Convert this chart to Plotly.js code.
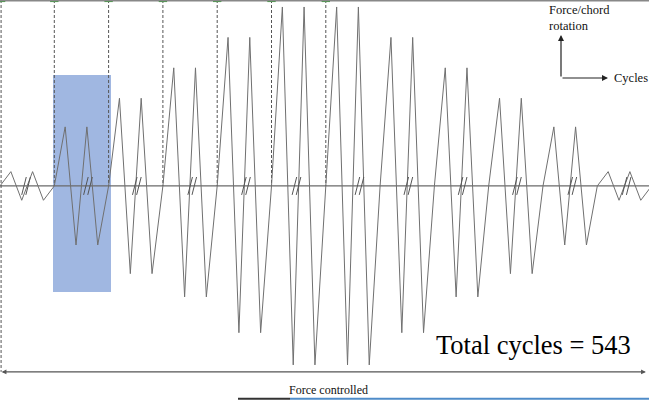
<!DOCTYPE html>
<html>
<head>
<meta charset="utf-8">
<script src="https://cdn.plot.ly/plotly-3.0.1.min.js"></script>
<style>
  html, body { margin: 0; padding: 0; background: #fff; }
  #chart { width: 649px; height: 400px; }
</style>
</head>
<body>
<div id="chart"></div>
<script>
// ---- data (schematic loading protocol) ----
// peak amplitude of each 2-cycle group (percent of max), positive and negative half
const groupUp   = [8, 33, 49, 66, 83, 100, 100, 83, 66, 49, 33, 8];
const groupDown = [8, 33, 49, 62, 82, 100, 100, 82, 62, 49, 33, 8];
// break ("//") marks on the time axis, in load-step units
const breakAt = [2.4, 8.1, 12.6, 17.7, 22.65, 27.3, 33.1, 37.6, 42.6, 47.6, 52.7, 57.7];
// phase boundaries (dashed verticals), in load-step units
const phaseBoundaries = [0.1, 5, 10, 15, 20, 25, 30];
const totalCyclesLabel = 'Total cycles = 543';

const STEPS_PER_GROUP = 5;
const X_MAX = 59.76, Y_MIN = -119.6, Y_MAX = 103.9;

// build the zig-zag signal from group amplitudes
const wx = [], wy = [];
groupUp.forEach((u, g) => {
  const s = g * STEPS_PER_GROUP;
  const d = groupDown[g];
  [0, u, -d, u, -d].forEach((v, k) => { wx.push(s + k); wy.push(v); });
});
wx.push(groupUp.length * STEPS_PER_GROUP); wy.push(0);

// dashed phase lines
const dx = [], dy = [];
phaseBoundaries.forEach((b, i) => {
  dx.push(b, b, null);
  dy.push(Y_MAX, i === 0 ? -103.9 : 0, null);
});

// break marks
const bx = [], by = [];
breakAt.forEach(b => {
  bx.push(b - 0.4, b + 0.02, null, b - 0.02, b + 0.4, null);
  by.push(-5, 5, null, -5, 5, null);
});

const traces = [
  { x: [0, X_MAX], y: [0, 0], mode: 'lines', line: { color: '#6a6a6a', width: 1.3 }, hoverinfo: 'skip' },
  { x: dx, y: dy, mode: 'lines', line: { color: '#555', width: 1, dash: '3px,2px' }, hoverinfo: 'skip' },
  { x: phaseBoundaries, y: phaseBoundaries.map(() => Y_MAX - 0.6), mode: 'markers',
    marker: { symbol: 'line-ew-open', size: 6, line: { color: '#444', width: 2 } }, hoverinfo: 'skip' },
  { x: wx, y: wy, mode: 'lines', line: { color: '#707070', width: 1 }, hoverinfo: 'skip' },
  { x: bx, y: by, mode: 'lines', line: { color: '#555', width: 1 }, hoverinfo: 'skip' }
];

const serif = '"Liberation Serif", "Times New Roman", serif';
const layout = {
  width: 649, height: 400,
  margin: { l: 0, r: 0, t: 0, b: 0 },
  paper_bgcolor: '#fff', plot_bgcolor: '#fff',
  showlegend: false,
  xaxis: { range: [0, X_MAX], visible: false, fixedrange: true },
  yaxis: { range: [Y_MIN, Y_MAX], visible: false, fixedrange: true },
  shapes: [
    { type: 'rect', xref: 'x', yref: 'y', x0: 4.88, x1: 10.22, y0: -59.2, y1: 62,
      fillcolor: '#a0b7e1', line: { width: 0 }, layer: 'below' },
    { type: 'line', xref: 'paper', yref: 'paper', x0: 0, x1: 1, y0: 0.998, y1: 0.998,
      line: { color: '#888', width: 1.5 } },
    { type: 'line', xref: 'paper', yref: 'paper', x0: 238/649, x1: 290/649, y0: 0.003, y1: 0.003,
      line: { color: '#333', width: 2 } },
    { type: 'line', xref: 'paper', yref: 'paper', x0: 290/649, x1: 1, y0: 0.003, y1: 0.003,
      line: { color: '#4f8cc9', width: 2 } }
  ],
  annotations: [
    { x: 0.15, y: -103.9, ax: X_MAX - 0.15, ay: -103.9, xref: 'x', yref: 'y', axref: 'x', ayref: 'y',
      text: '', showarrow: true, arrowside: 'end+start', arrowhead: 2, arrowsize: 0.8,
      arrowwidth: 1.2, arrowcolor: '#555', standoff: 0, startstandoff: 0 },
    { x: 561/649, y: 1 - 35/400, xref: 'paper', yref: 'paper', ax: 0, ay: 43, axref: 'pixel', ayref: 'pixel',
      text: '', showarrow: true, arrowhead: 2, arrowsize: 1, arrowwidth: 1.2, arrowcolor: '#222', standoff: 0 },
    { x: 608/649, y: 1 - 78/400, xref: 'paper', yref: 'paper', ax: -47, ay: 0, axref: 'pixel', ayref: 'pixel',
      text: '', showarrow: true, arrowhead: 2, arrowsize: 1, arrowwidth: 1.2, arrowcolor: '#222', standoff: 0 },
    { x: 547/649, y: 1 - 1/400, xref: 'paper', yref: 'paper', xanchor: 'left', yanchor: 'top', align: 'left',
      text: 'Force/chord<br>rotation', showarrow: false,
      font: { family: serif, size: 12.5, color: '#111' } },
    { x: 612/649, y: 1 - 78/400, xref: 'paper', yref: 'paper', xanchor: 'left', yanchor: 'middle',
      text: 'Cycles', showarrow: false, font: { family: serif, size: 12.5, color: '#111' } },
    { x: 434/649, y: 1 - 345/400, xref: 'paper', yref: 'paper', xanchor: 'left', yanchor: 'middle',
      text: totalCyclesLabel, showarrow: false, font: { family: serif, size: 26.5, color: '#000' } },
    { x: 287/649, y: 1 - 390/400, xref: 'paper', yref: 'paper', xanchor: 'left', yanchor: 'middle',
      text: 'Force controlled', showarrow: false, font: { family: serif, size: 12, color: '#111' } }
  ]
};

Plotly.newPlot('chart', traces, layout, { staticPlot: true, displayModeBar: false });
</script>
</body>
</html>
